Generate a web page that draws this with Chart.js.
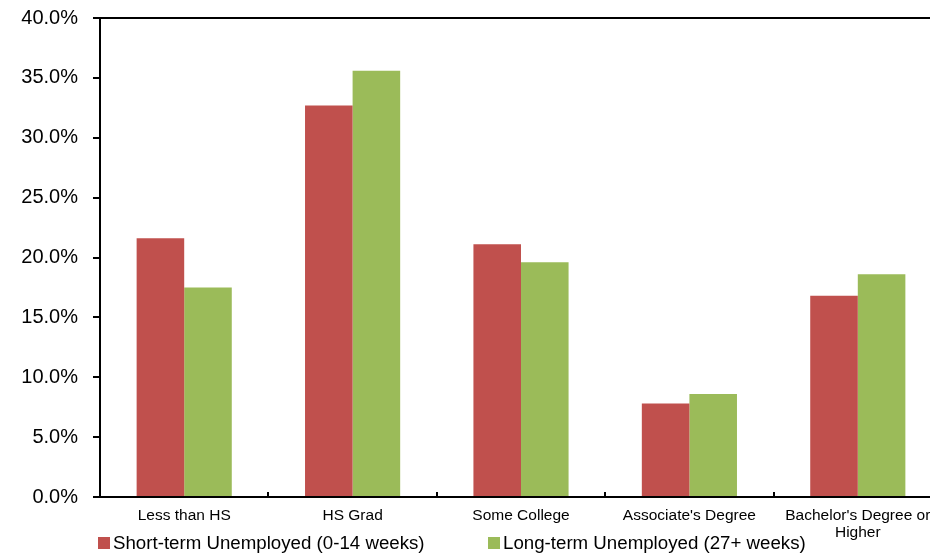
<!DOCTYPE html>
<html>
<head>
<meta charset="utf-8">
<script src="https://cdn.jsdelivr.net/npm/chart.js@4/dist/chart.umd.min.js"></script>
<style>
  html, body { margin: 0; padding: 0; background: #fff; overflow: hidden; }
  #wrap { position: relative; width: 950px; height: 554px; }
  .legend-item { position: absolute; top: 533px; height: 20px; display: flex; align-items: center;
    font-family: "Liberation Sans", Arial, sans-serif; font-size: 18.7px; color: #000; white-space: nowrap; }
  .legend-box { width: 12px; height: 12px; margin-right: 3px; }
</style>
</head>
<body>
<div id="wrap">
  <canvas id="chart"></canvas>
</div>
<script>
// Education categories and the share of each unemployment group (percent)
const categories = ['Less than HS', 'HS Grad', 'Some College', "Associate's Degree", ["Bachelor's Degree or", 'Higher']];
const shortTermUnemployed = [21.6, 32.7, 21.1, 7.8, 16.8];
const longTermUnemployed = [17.5, 35.6, 19.6, 8.6, 18.6];
const seriesNames = ['Short-term Unemployed (0-14 weeks)', 'Long-term Unemployed (27+ weeks)'];
const seriesColors = ['#C0504D', '#9BBB59'];
const yMin = 0, yMax = 40, yStep = 5;

const font = "'Liberation Sans', Arial, sans-serif";

// small upward tick marks at the category boundaries of the x axis
const boundaryTicks = {
  id: 'boundaryTicks',
  afterDraw(chart) {
    const area = chart.chartArea, ctx = chart.ctx;
    const step = (area.right - area.left) / categories.length;
    ctx.save();
    ctx.strokeStyle = '#000';
    ctx.lineWidth = 2;
    ctx.beginPath();
    for (let i = 1; i <= categories.length; i++) {
      const px = Math.round(area.left + step * i);
      ctx.moveTo(px, area.bottom - 5);
      ctx.lineTo(px, area.bottom);
    }
    ctx.stroke();
    ctx.restore();
  }
};

new Chart(document.getElementById('chart'), {
  type: 'bar',
  data: {
    labels: categories,
    datasets: [
      { label: seriesNames[0], data: shortTermUnemployed, backgroundColor: seriesColors[0] },
      { label: seriesNames[1], data: longTermUnemployed, backgroundColor: seriesColors[1] }
    ]
  },
  options: {
    responsive: true,
    maintainAspectRatio: false,
    animation: false,
    layout: { padding: { top: 18, right: 8, left: 0, bottom: 0 } },
    datasets: { bar: { categoryPercentage: 0.565, barPercentage: 1.0 } },
    plugins: { legend: { display: false }, tooltip: { enabled: false } },
    scales: {
      x: {
        afterFit(scale) { scale.height = 57; scale.paddingLeft = 0; scale.paddingRight = 0; },
        grid: { drawOnChartArea: false, drawTicks: false },
        border: { color: '#000', width: 2 },
        ticks: { color: '#000', padding: 10, font: { family: font, size: 15.5, lineHeight: 1.1 }, maxRotation: 0, autoSkip: false }
      },
      y: {
        min: yMin, max: yMax,
        afterFit(scale) { scale.width = 100; scale.paddingTop = 0; scale.paddingBottom = 0; },
        grid: {
          drawOnChartArea: true,
          color: (c) => (c.tick && c.tick.value === yMax ? '#000' : 'rgba(0,0,0,0)'),
          lineWidth: 2,
          drawTicks: true,
          tickLength: 7,
          tickColor: '#000',
          tickWidth: 2
        },
        border: { color: '#000', width: 2 },
        ticks: {
          stepSize: yStep,
          color: '#000',
          padding: 15,
          font: { family: font, size: 20 },
          callback: (v) => v.toFixed(1) + '%'
        }
      }
    }
  },
  plugins: [boundaryTicks]
});

// legend row below the axis
const legendLefts = [98, 488];
const wrap = document.getElementById('wrap');
seriesNames.forEach((name, i) => {
  const item = document.createElement('div');
  item.className = 'legend-item';
  item.style.left = legendLefts[i] + 'px';
  const box = document.createElement('span');
  box.className = 'legend-box';
  box.style.background = seriesColors[i];
  const text = document.createElement('span');
  text.textContent = name;
  item.appendChild(box);
  item.appendChild(text);
  wrap.appendChild(item);
});
</script>
</body>
</html>
